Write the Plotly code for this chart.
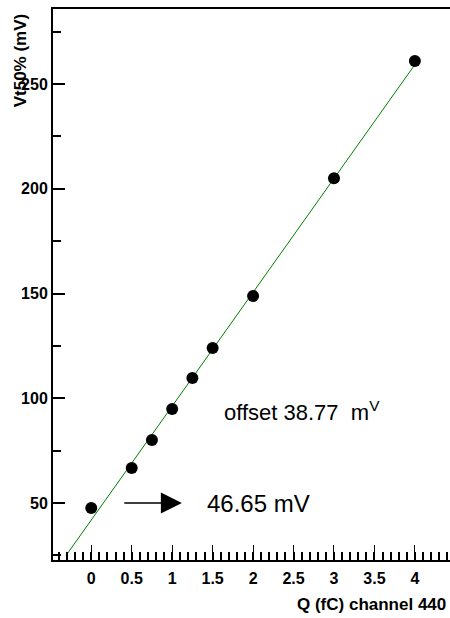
import numpy as np
import plotly.graph_objects as go

# Data
charge_fc = [0, 0.5, 0.75, 1.0, 1.25, 1.5, 2.0, 3.0, 4.0]
vt50_mv = [47.6, 66.7, 80.1, 94.9, 109.7, 124.0, 148.8, 205.0, 261.0]
fit_range = [-0.31, 4.0]
x_ticks = [0, 0.5, 1, 1.5, 2, 2.5, 3, 3.5, 4]
x_tick_labels = ["0", "0.5", "1", "1.5", "2", "2.5", "3", "3.5", "4"]
y_ticks = [50, 100, 150, 200, 250]
y_tick_labels = ["50", "100", "150", "200", "250"]

slope, intercept = np.polyfit(charge_fc, vt50_mv, 1)
fit_x = np.array(fit_range)
fit_y = slope * fit_x + intercept

x_minor = [float(round(v, 2)) for v in np.arange(-0.4, 4.45, 0.1)]
y_minor = [25 + 25 * i for i in range(11)]

FONT = "Liberation Sans, Arial, Helvetica, sans-serif"
XRANGE = [-0.473, 4.434]

fig = go.Figure()
fig.add_trace(go.Scatter(x=fit_x, y=fit_y, mode="lines",
                         line=dict(color="#008000", width=1), hoverinfo="skip"))
fig.add_trace(go.Scatter(x=charge_fc, y=vt50_mv, mode="markers",
                         marker=dict(color="black", size=12, symbol="circle")))

fig.update_layout(
    width=450, height=618,
    margin=dict(l=53, r=0, t=9, b=58),
    paper_bgcolor="white", plot_bgcolor="white",
    showlegend=False,
    font=dict(family=FONT, color="black"),
)
fig.update_xaxes(
    range=XRANGE, showgrid=False, zeroline=False,
    showline=True, linecolor="black", linewidth=2, mirror=True,
    ticks="inside", ticklen=15, tickwidth=1, tickcolor="black",
    tickmode="array", tickvals=x_ticks, ticktext=x_tick_labels,
    tickfont=dict(size=16, weight="bold", family=FONT),
    ticklabelstandoff=3,
    minor=dict(tickmode="array", tickvals=x_minor, ticks="inside", ticklen=8,
               tickcolor="black", tickwidth=2, showgrid=False),
)
fig.update_yaxes(
    range=[22.8, 285.8], showgrid=False, zeroline=False,
    showline=True, linecolor="black", linewidth=2,
    ticks="inside", ticklen=12, tickwidth=2, tickcolor="black",
    tickmode="array", tickvals=y_ticks, ticktext=y_tick_labels,
    tickfont=dict(size=16, weight="bold", family=FONT),
    ticklabelstandoff=0,
    minor=dict(tickmode="array", tickvals=y_minor, ticks="inside", ticklen=8,
               tickcolor="black", tickwidth=2, showgrid=False),
)

fig.add_annotation(text="Q (fC) channel 440", xref="paper", yref="paper",
                   x=0.995, y=-0.081, xanchor="right", yanchor="middle", showarrow=False,
                   font=dict(size=17, weight="bold", family=FONT))
fig.add_annotation(text="Vt50% (mV)", xref="paper", yref="paper",
                   x=-0.083, y=0.907, xanchor="center", yanchor="middle", showarrow=False,
                   textangle=-90, font=dict(size=17, weight="bold", family=FONT))

fig.add_annotation(text="46.65 mV", x=1.40, y=50, xanchor="left", yanchor="middle",
                   showarrow=False, font=dict(size=24, family=FONT))
fig.add_annotation(text="offset 38.77  m<sup>V</sup>", x=1.62, y=94, xanchor="left",
                   yanchor="middle", showarrow=False, font=dict(size=22, family=FONT))
fig.add_annotation(x=1.12, y=50, ax=0.39, ay=50, axref="x", ayref="y", text="",
                   showarrow=True, arrowhead=2, arrowwidth=1.5, arrowsize=2.8,
                   arrowcolor="black")

fig.write_html("out.html")
